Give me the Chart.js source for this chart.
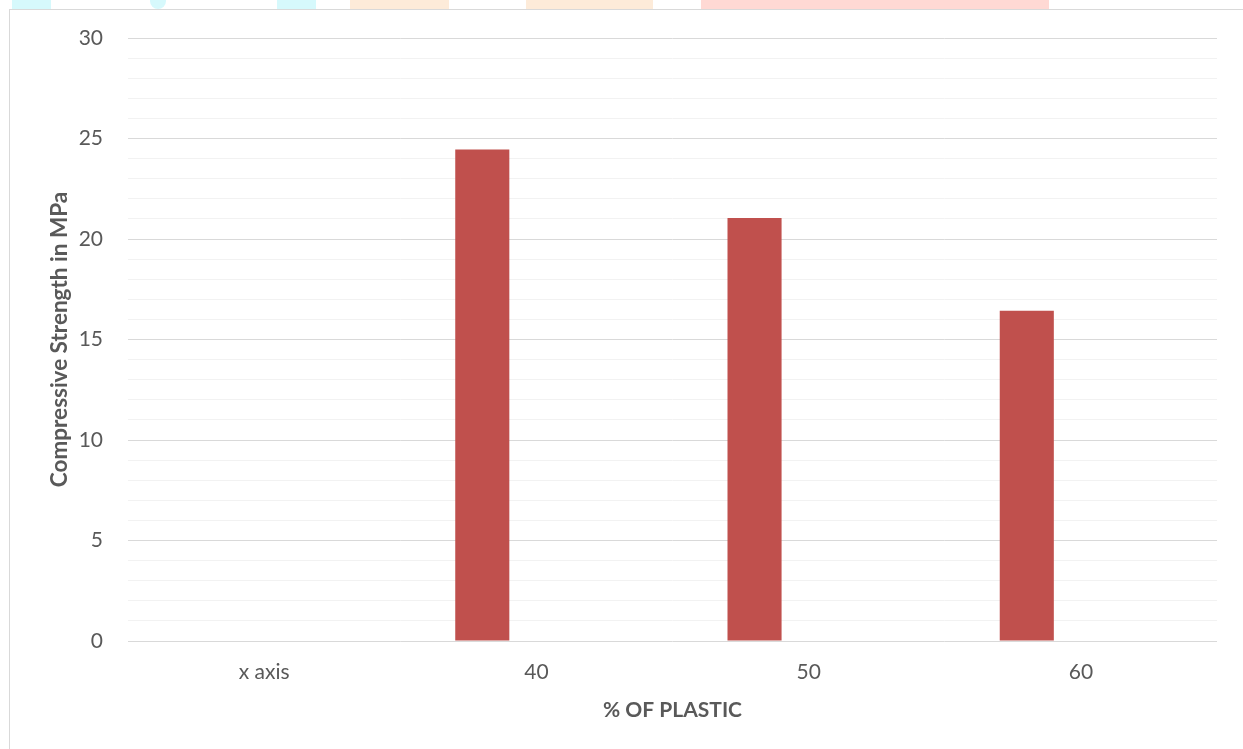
<!DOCTYPE html>
<html>
<head>
<meta charset="utf-8">
<script src="https://cdn.jsdelivr.net/npm/chart.js@4/dist/chart.umd.min.js"></script>
<style>
  html, body { margin: 0; padding: 0; background: #fff; }
  body { width: 1243px; height: 749px; position: relative; overflow: hidden; }
  .frame { position: absolute; left: 9px; top: 9px; width: 1260px; height: 780px; border: 1px solid #d9d9d9; box-sizing: border-box; }
  .wm { position: absolute; top: 0; height: 9px; }
  #wrap { position: absolute; left: 0; top: 0; width: 1243px; height: 749px; }
</style>
</head>
<body>
<div class="wm" style="left:12px;width:39px;background:#d6f9fc"></div>
<div class="wm" style="left:150px;width:16px;background:#d6f9fc;border-radius:0 0 8px 8px"></div>
<div class="wm" style="left:277px;width:39px;background:#d6f9fc"></div>
<div class="wm" style="left:350px;width:99px;background:#fdebd9"></div>
<div class="wm" style="left:526px;width:127px;background:#fdebd9"></div>
<div class="wm" style="left:701px;width:348px;background:#ffd9d4"></div>
<div class="frame"></div>
<div id="wrap"><canvas id="c" width="1243" height="749"></canvas></div>
<script>
const categories = ["x axis", "40", "50", "60"];
const strengthValues = [null, 24.45, 21.05, 16.43];
const emptySeriesA = [null, null, null, null];
const emptySeriesB = [null, null, null, null];
const yMin = 0, yMax = 30, yStep = 1, yLabelStep = 5;

const textColor = "#595959";
const fontFamily = "Lato, 'Open Sans', sans-serif";

new Chart(document.getElementById("c"), {
  type: "bar",
  data: {
    labels: categories,
    datasets: [
      { label: "Compressive Strength", data: strengthValues, backgroundColor: "#c0504d", borderWidth: 0 },
      { label: "Series 2", data: emptySeriesA, backgroundColor: "#4f81bd", borderWidth: 0 },
      { label: "Series 3", data: emptySeriesB, backgroundColor: "#9bbb59", borderWidth: 0 }
    ]
  },
  options: {
    responsive: false,
    animation: false,
    devicePixelRatio: 1,
    layout: { padding: { left: 0, right: 26, top: 38, bottom: 0 } },
    plugins: { legend: { display: false }, tooltip: { enabled: false } },
    datasets: { bar: { categoryPercentage: 0.596, barPercentage: 1.0 } },
    scales: {
      x: {
        grid: { display: false, drawTicks: false },
        border: { display: false },
        ticks: { color: textColor, font: { family: fontFamily, size: 21 }, padding: 19, maxRotation: 0 },
        title: { display: true, text: "% OF PLASTIC", color: textColor, font: { family: fontFamily, size: 21, weight: "bold" }, padding: { top: 0, bottom: 26 } },
        afterFit: (s) => { s.height = 108; }
      },
      y: {
        min: yMin, max: yMax,
        grid: {
          drawTicks: false,
          color: (ctx) => (ctx.tick && ctx.tick.value % yLabelStep === 0) ? "#d9d9d9" : "#f2f2f2",
          lineWidth: 1
        },
        border: { display: false },
        ticks: {
          stepSize: yStep,
          autoSkip: false,
          color: textColor,
          font: { family: fontFamily, size: 21 },
          padding: 25,
          callback: (v) => (v % yLabelStep === 0 ? v : "")
        },
        title: { display: true, text: "Compressive Strength in MPa", color: textColor, font: { family: fontFamily, size: 22.5, weight: "bold" }, padding: { top: 0, bottom: 0 } },
        afterFit: (s) => { s.width = 128; }
      }
    }
  },
  plugins: [{
    id: "titleShift",
    beforeDraw(chart) {
      const y = chart.scales.y;
      y.left = 46;
    }
  }]
});
</script>
</body>
</html>
